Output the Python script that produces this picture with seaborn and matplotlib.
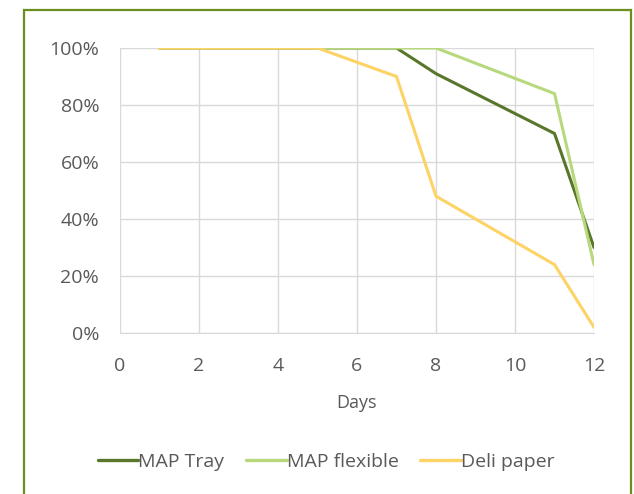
import pandas as pd
import matplotlib
matplotlib.use('Agg')
import matplotlib.pyplot as plt
import seaborn as sns
from matplotlib.patches import Rectangle
from matplotlib.ticker import PercentFormatter

# values
days = [1, 5, 7, 8, 11, 12]
map_tray = [100, 100, 100, 91, 70, 30]
map_flexible = [100, 100, 100, 100, 84, 24]
deli_paper = [100, 100, 90, 48, 24, 2]
series_names = ['MAP Tray', 'MAP flexible', 'Deli paper']
colors = ['#58772b', '#b7d87c', '#fdd366']

df = pd.DataFrame({
    'Days': days * 3,
    'value': map_tray + map_flexible + deli_paper,
    'series': [s for s in series_names for _ in days],
})

sns.set_style('white')
plt.rcParams['font.family'] = ['Open Sans', 'DejaVu Sans']
text_col = '#595959'
grid_col = '#d9d9d9'
fs = 14

fig = plt.figure(figsize=(6.34, 4.94), dpi=100)
ax = fig.add_axes([120 / 634, 1 - 333 / 494, 474 / 634, 285 / 494])

sns.lineplot(data=df, x='Days', y='value', hue='series', hue_order=series_names,
             palette=colors, linewidth=2.2, ax=ax, legend=False)

ax.set_xlim(0, 12)
ax.set_ylim(0, 100)
ax.set_xticks(range(0, 13, 2))
ax.set_yticks(range(0, 101, 20))
ax.yaxis.set_major_formatter(PercentFormatter(decimals=0))
ax.grid(True, color=grid_col, linewidth=1)
ax.set_axisbelow(True)
for side in ['top', 'right', 'left']:
    ax.spines[side].set_visible(False)
ax.spines['bottom'].set_color(grid_col)
ax.tick_params(axis='both', length=0, labelsize=fs, colors=text_col)
ax.tick_params(axis='x', pad=17)
ax.tick_params(axis='y', pad=15)
ax.set_xlabel('Days', fontsize=fs - 1, color=text_col, labelpad=14)
ax.set_ylabel('')

handles = [plt.Line2D([0], [0], color=c, lw=2.4) for c in colors]
fig.legend(handles, series_names, loc='center', bbox_to_anchor=(326 / 634, 1 - 462 / 494),
           ncol=3, frameon=False, fontsize=fs, labelcolor=text_col,
           handlelength=2.1, handletextpad=0.0, columnspacing=1.1)

# olive frame around the chart
fig.patches.append(Rectangle((24 / 634, -0.1), 607 / 634, 1.1 - 10 / 494,
                             transform=fig.transFigure, fill=False,
                             edgecolor='#6b8e1f', linewidth=1.6))

fig.savefig('out.png', dpi=100, facecolor='white')
